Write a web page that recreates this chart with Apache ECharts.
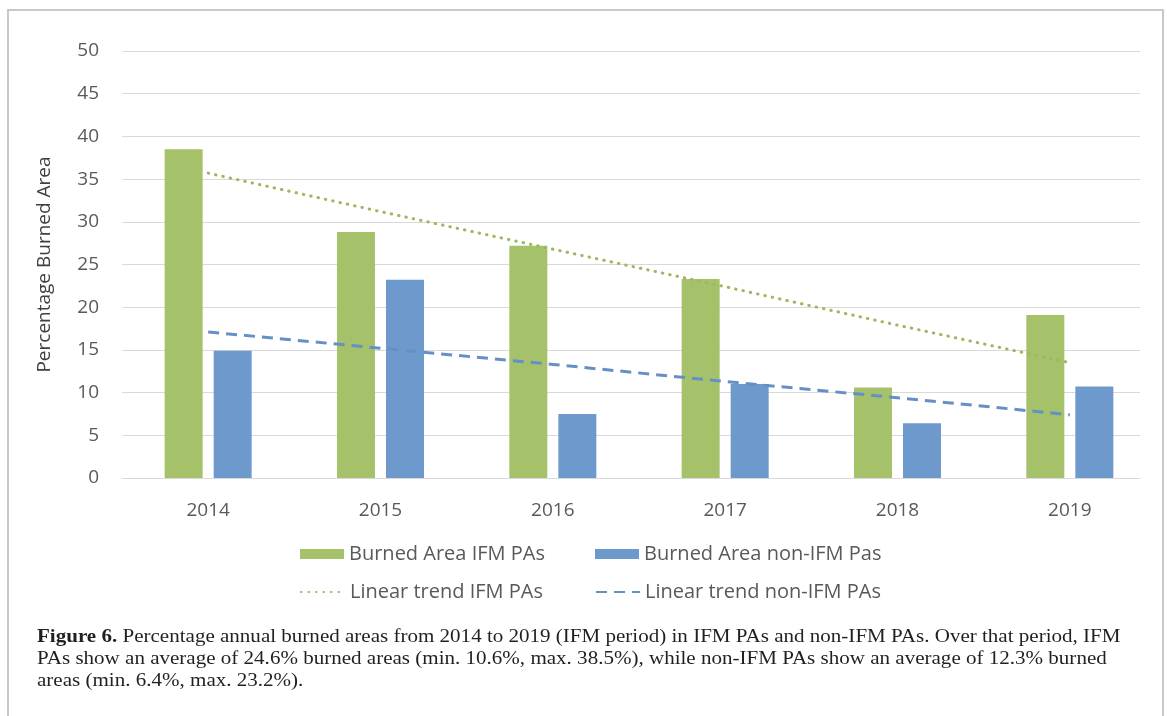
<!DOCTYPE html>
<html>
<head>
<meta charset="utf-8">
<script src="https://cdn.jsdelivr.net/npm/echarts@6/dist/echarts.min.js"></script>
<style>
html,body{margin:0;padding:0;background:#fff;}
#main{width:1167px;height:716px;}
</style>
</head>
<body>
<div id="main"></div>
<script>
const years = ['2014','2015','2016','2017','2018','2019'];
const ifmValues = [38.5, 28.8, 27.2, 23.3, 10.6, 19.1];
const nonIfmValues = [14.9, 23.2, 7.5, 11.0, 6.4, 10.7];
const ifmTrend = [35.7, 31.2, 26.8, 22.4, 17.9, 13.5];
const nonIfmTrend = [17.1, 15.2, 13.3, 11.3, 9.4, 7.4];
const yTicks = [0, 5, 10, 15, 20, 25, 30, 35, 40, 45, 50];
const seriesNames = ['Burned Area IFM PAs', 'Burned Area non-IFM Pas', 'Linear trend IFM PAs', 'Linear trend non-IFM PAs'];
const captionBold = 'Figure 6.';
const captionLines = [
  'Percentage annual burned areas from 2014 to 2019 (IFM period) in IFM PAs and non-IFM PAs. Over that period, IFM',
  'PAs show an average of 24.6% burned areas (min. 10.6%, max. 38.5%), while non-IFM PAs show an average of 12.3% burned',
  'areas (min. 6.4%, max. 23.2%).'
];

const FONT = '"Open Sans", "Noto Sans", sans-serif';
const SERIF = '"Liberation Serif", "Times New Roman", serif';
const TXT = '#595959';
const GREEN = '#a5c26a';
const BLUE = '#6e99cc';
const GREEN_LINE = '#9cb95f';
const BLUE_LINE = '#6490c6';

const chart = echarts.init(document.getElementById('main'), null, {renderer: 'canvas'});

const legendBase = {
  itemWidth: 44, itemHeight: 10, itemGap: 0, padding: 0, selectedMode: false,
  textStyle: {fontFamily: FONT, fontSize: 20, color: TXT, padding: [0, 0, 0, 0]}
};
const lineLegend = {itemStyle: {opacity: 0}};

chart.setOption({
  animation: false,
  backgroundColor: '#fff',
  grid: [
    {left: 122, right: 11, top: 51, bottom: 238, containLabel: false},
    {left: 122, right: 27, top: 51, bottom: 238, containLabel: false}
  ],
  xAxis: [
    {
      type: 'category', gridIndex: 0, data: years,
      axisLine: {show: false}, axisTick: {show: false},
      axisLabel: {fontFamily: FONT, fontSize: 19, color: TXT, margin: 23},
      splitLine: {show: false}
    },
    {
      type: 'category', gridIndex: 1, data: years,
      axisLine: {show: true, lineStyle: {color: '#d9d9d9', width: 1}},
      axisTick: {show: false}, axisLabel: {show: false}, splitLine: {show: false}
    }
  ],
  yAxis: [
    {
      type: 'value', gridIndex: 0,
      min: yTicks[0], max: yTicks[yTicks.length - 1], interval: 5,
      show: false, splitLine: {show: false}
    },
    {
      type: 'value', gridIndex: 1,
      min: yTicks[0], max: yTicks[yTicks.length - 1], interval: 5,
      name: 'Percentage Burned Area',
      nameLocation: 'middle', nameRotate: 90, nameGap: 68,
      nameTextStyle: {fontFamily: FONT, fontSize: 19, color: '#404040'},
      axisLine: {show: false}, axisTick: {show: false},
      axisLabel: {fontFamily: FONT, fontSize: 19, color: TXT, margin: 23},
      splitLine: {lineStyle: {color: '#d9d9d9', width: 1}}
    }
  ],
  legend: [
    Object.assign({}, legendBase, {data: [{name: seriesNames[0], icon: 'rect'}], left: 300, top: 544}),
    Object.assign({}, legendBase, {data: [{name: seriesNames[1], icon: 'rect'}], left: 595, top: 544}),
    Object.assign({}, legendBase, lineLegend, {data: [seriesNames[2]], left: 300, top: 582}),
    Object.assign({}, legendBase, lineLegend, {data: [seriesNames[3]], left: 595, top: 582})
  ],
  series: [
    {name: seriesNames[0], type: 'bar', xAxisIndex: 0, yAxisIndex: 0, data: ifmValues,
      barWidth: 38, barGap: '29%', itemStyle: {color: GREEN}},
    {name: seriesNames[1], type: 'bar', xAxisIndex: 0, yAxisIndex: 0, data: nonIfmValues,
      barWidth: 38, barGap: '29%', itemStyle: {color: BLUE}},
    {name: seriesNames[2], type: 'line', xAxisIndex: 0, yAxisIndex: 0, data: ifmTrend,
      symbol: 'none', z: 5, itemStyle: {color: GREEN_LINE},
      lineStyle: {color: GREEN_LINE, width: 3, type: [0.5, 7], cap: 'round'}},
    {name: seriesNames[3], type: 'line', xAxisIndex: 0, yAxisIndex: 0, data: nonIfmTrend,
      symbol: 'none', z: 5, itemStyle: {color: BLUE_LINE},
      lineStyle: {color: BLUE_LINE, width: 3, type: [11, 7]}}
  ],
  graphic: [
    {type: 'rect', x: 8, y: 10, silent: true, z: -1,
      shape: {x: 0, y: 0, width: 1155, height: 730},
      style: {fill: 'none', stroke: '#c8c8c8', lineWidth: 2}},
    {type: 'text', x: 37, y: 626, scaleX: 1.107, silent: true,
      style: {
        text: '{b|' + captionBold + '} ' + captionLines.join('\n'),
        font: '19px ' + SERIF,
        fill: '#231f20',
        lineHeight: 22,
        rich: {b: {fontWeight: 'bold', fontFamily: SERIF, fontSize: 19, lineHeight: 22, fill: '#231f20'}}
      }}
  ]
});
</script>
</body>
</html>
